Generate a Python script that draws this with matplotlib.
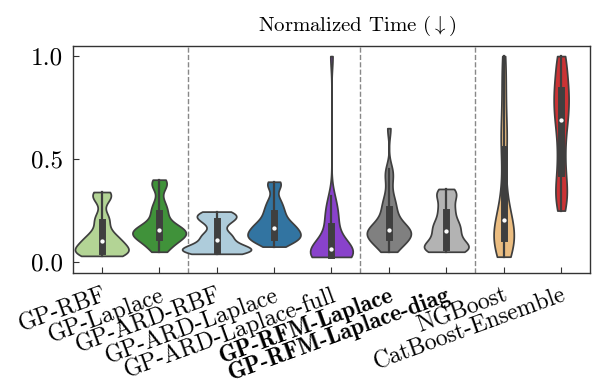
import matplotlib

matplotlib.use("Agg")

import matplotlib.pyplot as plt
import pandas as pd
import seaborn as sns

# per-method normalized runtimes (one value per dataset)
methods = [
    "GP-RBF",
    "GP-Laplace",
    "GP-ARD-RBF",
    "GP-ARD-Laplace",
    "GP-ARD-Laplace-full",
    "GP-RFM-Laplace",
    "GP-RFM-Laplace-diag",
    "NGBoost",
    "CatBoost-Ensemble",
]
bold_methods = ["GP-RFM-Laplace", "GP-RFM-Laplace-diag"]

gp_rbf = [0.030, 0.033, 0.036, 0.040, 0.043, 0.046, 0.048, 0.050, 0.055, 0.060,
          0.068, 0.075, 0.082, 0.090, 0.097, 0.103, 0.110, 0.118, 0.126, 0.135,
          0.150, 0.180, 0.200, 0.215, 0.230, 0.300, 0.315, 0.325, 0.335, 0.340]
gp_laplace = [0.050, 0.060, 0.075, 0.090, 0.100, 0.108, 0.115, 0.120, 0.125, 0.130,
              0.135, 0.140, 0.145, 0.150, 0.153, 0.157, 0.162, 0.168, 0.175, 0.185,
              0.200, 0.225, 0.240, 0.255, 0.275, 0.300, 0.360, 0.375, 0.390, 0.400]
gp_ard_rbf = [0.040, 0.043, 0.046, 0.050, 0.053, 0.056, 0.058, 0.060, 0.063, 0.067,
              0.071, 0.075, 0.080, 0.090, 0.100, 0.112, 0.120, 0.128, 0.135, 0.145,
              0.170, 0.190, 0.200, 0.208, 0.215, 0.222, 0.228, 0.235, 0.240, 0.245]
gp_ard_laplace = [0.075, 0.085, 0.095, 0.103, 0.110, 0.115, 0.118, 0.121, 0.126, 0.132,
                  0.138, 0.145, 0.150, 0.157, 0.163, 0.170, 0.176, 0.182, 0.190, 0.200,
                  0.212, 0.228, 0.240, 0.255, 0.270, 0.290, 0.310, 0.365, 0.380, 0.390]
gp_ard_laplace_full = [0.025, 0.026, 0.027, 0.028, 0.029, 0.030, 0.031, 0.032, 0.035, 0.038,
                       0.042, 0.046, 0.050, 0.055, 0.060, 0.066, 0.072, 0.080, 0.090, 0.100,
                       0.120, 0.160, 0.180, 0.200, 0.220, 0.240, 0.260, 0.290, 0.320, 1.000]
gp_rfm_laplace = [0.050, 0.060, 0.075, 0.090, 0.100, 0.108, 0.115, 0.120, 0.126, 0.132,
                  0.138, 0.143, 0.148, 0.152, 0.155, 0.158, 0.165, 0.175, 0.185, 0.200,
                  0.220, 0.245, 0.260, 0.280, 0.300, 0.330, 0.390, 0.430, 0.450, 0.650]
gp_rfm_laplace_diag = [0.050, 0.053, 0.057, 0.060, 0.064, 0.067, 0.070, 0.072, 0.080, 0.090,
                       0.100, 0.110, 0.120, 0.132, 0.145, 0.155, 0.165, 0.175, 0.185, 0.195,
                       0.210, 0.230, 0.250, 0.265, 0.280, 0.310, 0.325, 0.335, 0.345, 0.355]
ngboost = [0.026, 0.035, 0.048, 0.060, 0.075, 0.090, 0.105, 0.113, 0.122, 0.130,
           0.140, 0.150, 0.165, 0.180, 0.195, 0.213, 0.230, 0.260, 0.300, 0.350,
           0.420, 0.520, 0.560, 0.600, 0.650, 0.700, 0.780, 0.850, 0.930, 1.000]
catboost_ensemble = [0.250, 0.270, 0.300, 0.320, 0.340, 0.360, 0.390, 0.420, 0.460, 0.500,
                     0.540, 0.580, 0.620, 0.650, 0.680, 0.700, 0.720, 0.740, 0.760, 0.780,
                     0.800, 0.820, 0.840, 0.860, 0.880, 0.900, 0.940, 0.970, 1.000, 1.000]

colors = ["#b2df8a", "#33a02c", "#a6cee3", "#1f78b4", "#8a2be2",
          "#808080", "#b3b3b3", "#fdbf6f", "#e31a1c"]
group_breaks = [1.5, 4.5, 6.5]
yticks = [0.0, 0.5, 1.0]

series = [gp_rbf, gp_laplace, gp_ard_rbf, gp_ard_laplace, gp_ard_laplace_full,
          gp_rfm_laplace, gp_rfm_laplace_diag, ngboost, catboost_ensemble]
df = pd.DataFrame(
    [(m, v) for m, vals in zip(methods, series) for v in vals],
    columns=["method", "value"],
)

plt.rcParams.update({
    "font.family": ["cmr10", "DejaVu Serif"],
    "mathtext.fontset": "cm",
    "axes.formatter.use_mathtext": True,
    "axes.edgecolor": "#333333",
    "axes.linewidth": 1.0,
    "xtick.direction": "in",
    "ytick.direction": "in",
})

fig = plt.figure(figsize=(5.97, 3.85), dpi=100)
ax = fig.add_axes([0.1223, 0.291, 0.8657, 0.5895])

sns.violinplot(
    data=df, x="method", y="value", hue="method", order=methods,
    hue_order=methods, palette=colors, saturation=0.75, cut=0,
    inner="box", density_norm="area", common_norm=True, width=1.2,
    bw_adjust=0.6, linewidth=1.25, linecolor="#3f3f3f", legend=False,
    inner_kws=dict(box_width=5, whis_width=1.6, marker="."), ax=ax,
)

for xb in group_breaks:
    ax.axvline(xb, color="#888888", linestyle="--", linewidth=1.0, zorder=0)

ax.set_xlim(-0.5, len(methods) - 0.5)
ax.set_ylim(-0.053, 1.049)
ax.set_yticks(yticks)
ax.set_yticklabels([f"{t:.1f}" for t in yticks], fontsize=18)
ax.set_xticks(range(len(methods)))
ax.set_xticklabels(methods, fontsize=17, rotation=20, ha="right",
                   rotation_mode="anchor")
for lab in ax.get_xticklabels():
    if lab.get_text() in bold_methods:
        lab.set_family(["cmb10", "DejaVu Serif"])
ax.tick_params(axis="both", length=4, width=0.8, color="#333333")
ax.tick_params(axis="x", pad=8)
ax.tick_params(axis="y", pad=7)
ax.set_xlabel("")
ax.set_ylabel("")
ax.set_title(r"Normalized Time ($\downarrow$)", fontsize=15, pad=11, x=0.551)

fig.savefig("out.png", dpi=100)
